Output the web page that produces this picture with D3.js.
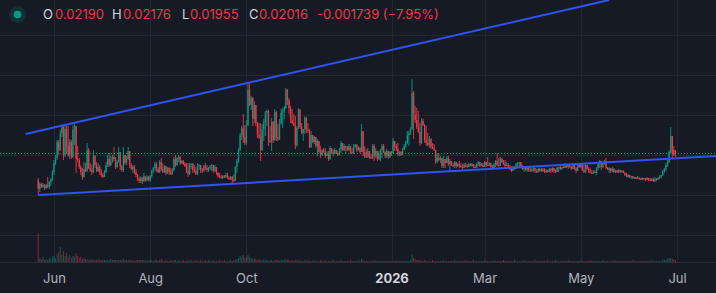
<!DOCTYPE html>
<meta charset="utf-8">
<style>
    body {
        margin: 0;
        background: #161a25;
    }
    svg {
        display: block;
        font-family: Inter, Roboto, sans-serif;
    }
    .grid line {
        stroke: #232633;
        shape-rendering: crispEdges;
    }
    .grid path {
        display: none;
    }
</style>
<body>
<script src="https://d3js.org/d3.v7.min.js"></script>
<script>
    // daily candles, first one on this day
    var firstDay = "2025-05-22";

    var opens = [
        0.0175,0.0166,0.0171,0.0168,0.0170,0.0167,0.0170,0.0168,0.0173,0.0176,0.0183,0.0192,0.0197,0.0213,0.0205,0.0222,0.0228,0.0200,0.0226,0.0210,
        0.0200,0.0213,0.0198,0.0225,0.0229,0.0196,0.0195,0.0188,0.0183,0.0178,0.0186,0.0184,0.0205,0.0187,0.0185,0.0183,0.0199,0.0190,0.0184,0.0188,
        0.0183,0.0180,0.0178,0.0183,0.0190,0.0196,0.0190,0.0193,0.0198,0.0196,0.0188,0.0193,0.0203,0.0188,0.0185,0.0200,0.0192,0.0196,0.0204,0.0190,
        0.0186,0.0188,0.0183,0.0180,0.0176,0.0174,0.0177,
        0.0174,0.0179,0.0175,0.0178,0.0175,0.0179,0.0184,0.0187,0.0191,0.0186,0.0183,0.0193,0.0186,0.0183,0.0189,0.0182,0.0187,0.0183,0.0181,0.0185,
        0.0196,0.0190,0.0197,0.0198,0.0192,0.0194,0.0191,0.0189,0.0184,0.0181,0.0190,0.0191,0.0185,0.0184,0.0181,0.0189,0.0190,0.0185,0.0184,0.0189,
        0.0187,0.0185,0.0187,0.0189,0.0190,0.0184,0.0188,0.0182,0.0179,0.0178,0.0177,0.0179,0.0178,0.0180,0.0177,0.0176,0.0178,0.0175,
        0.0174,0.0188,0.0194,0.0205,0.0220,0.0227,0.0218,0.0212,0.0230,0.0265,0.0250,0.0257,0.0236,0.0250,0.0232,0.0220,0.0218,0.0205,0.0226,0.0233,
        0.0242,0.0244,0.0214,0.0213,0.0233,0.0215,0.0243,0.0218,0.0216,0.0232,0.0242,0.0244,0.0247,0.0265,0.0255,0.0247,0.0235,0.0232,0.0229,0.0210,
        0.0227,0.0245,0.0228,0.0222,0.0226,0.0237,0.0225,0.0224,0.0208,0.0220,0.0213,0.0218,0.0209,0.0214,0.0203,0.0200,0.0205,0.0203,0.0199,0.0201,
        0.0196,0.0207,0.0203,0.0201,0.0205,0.0202,0.0200,0.0206,0.0212,0.0205,0.0209,0.0208,0.0205,0.0209,0.0203,0.0202,0.0208,0.0210,0.0205,0.0207,
        0.0203,
        0.0224,0.0203,0.0199,0.0198,0.0204,0.0198,0.0197,0.0209,0.0199,0.0204,0.0196,0.0202,0.0205,0.0209,0.0203,0.0199,0.0204,0.0198,0.0203,0.0202,
        0.0214,0.0209,0.0206,0.0201,0.0203,0.0200,0.0205,0.0209,0.0212,0.0220,0.0222,0.0226,0.0262,0.0240,0.0235,0.0228,0.0223,0.0212,0.0234,0.0230,
        0.0215,0.0212,0.0210,0.0216,0.0208,0.0207,0.0205,0.0193,0.0197,0.0195,0.0197,0.0189,0.0196,0.0192,0.0197,0.0191,0.0194,0.0190,0.0189,0.0193,
        0.0189,0.0191,0.0189,0.0188,0.0187,
        0.0190,0.0189,0.0188,0.0191,0.0189,0.0191,0.0188,0.0187,0.0191,0.0193,0.0189,0.0190,0.0188,0.0193,0.0190,0.0189,0.0192,0.0188,0.0186,0.0191,
        0.0194,0.0190,0.0189,0.0196,0.0193,0.0191,0.0189,0.0190,0.0188,0.0186,0.0184,0.0188,0.0186,0.0191,0.0192,0.0193,0.0189,0.0186,0.0188,0.0185,
        0.0187,0.0185,0.0184,0.0186,0.0187,0.0184,0.0183,0.0186,0.0184,0.0186,0.0184,0.0183,0.0185,0.0183,0.0186,0.0184,0.0187,0.0184,0.0183,0.0187,
        0.0188,0.0186,0.0188,0.0187,0.0189,0.0188,0.0190,0.0188,0.0186,0.0190,0.0187,0.0184,0.0190,
        0.0188,0.0191,0.0185,0.0183,0.0190,0.0186,0.0183,0.0182,0.0181,0.0183,0.0182,0.0187,0.0191,0.0194,0.0188,0.0192,0.0194,0.0187,0.0185,0.0187,
        0.0184,0.0186,0.0183,0.0185,0.0183,0.0185,0.0183,0.0184,0.0182,0.0180,0.0178,0.0180,0.0178,0.0179,0.0177,0.0178,0.0176,0.0177,0.0176,0.0175,
        0.0177,0.0176,0.0175,0.0177,0.0175,0.0174,0.0176,0.0174,0.0176,0.0175,0.0177,0.0178,0.0180,0.0184,0.0186,0.0190,0.0193,0.0203,0.0219,0.0205,
        0.0205
    ];

    var highs = [
        0.0177,0.0173,0.0172,0.0172,0.0171,0.0171,0.0178,0.0174,0.0177,0.0185,0.0195,0.0200,0.0215,0.0215,0.0225,0.0230,0.0230,0.0230,0.0231,0.0229,
        0.0216,0.0215,0.0230,0.0231,0.0229,0.0209,0.0197,0.0190,0.0187,0.0193,0.0192,0.0212,0.0207,0.0192,0.0190,0.0205,0.0200,0.0193,0.0192,0.0190,
        0.0186,0.0182,0.0185,0.0193,0.0200,0.0202,0.0199,0.0200,0.0208,0.0198,0.0195,0.0208,0.0203,0.0190,0.0208,0.0200,0.0199,0.0208,0.0204,0.0192,
        0.0190,0.0190,0.0186,0.0181,0.0178,0.0179,0.0178,
        0.0182,0.0179,0.0180,0.0179,0.0180,0.0185,0.0188,0.0193,0.0193,0.0188,0.0195,0.0197,0.0192,0.0190,0.0189,0.0188,0.0188,0.0187,0.0187,0.0198,
        0.0200,0.0198,0.0200,0.0199,0.0195,0.0195,0.0193,0.0192,0.0192,0.0192,0.0192,0.0192,0.0190,0.0188,0.0192,0.0191,0.0190,0.0187,0.0190,0.0192,
        0.0190,0.0188,0.0190,0.0191,0.0190,0.0190,0.0188,0.0183,0.0182,0.0180,0.0180,0.0180,0.0182,0.0182,0.0179,0.0179,0.0179,0.0181,
        0.0189,0.0196,0.0207,0.0222,0.0229,0.0241,0.0230,0.0235,0.0271,0.0272,0.0259,0.0258,0.0254,0.0250,0.0233,0.0232,0.0232,0.0231,0.0236,0.0244,
        0.0246,0.0245,0.0229,0.0237,0.0234,0.0246,0.0244,0.0231,0.0236,0.0246,0.0247,0.0249,0.0267,0.0266,0.0257,0.0249,0.0246,0.0241,0.0239,0.0229,
        0.0247,0.0246,0.0232,0.0226,0.0239,0.0238,0.0232,0.0226,0.0224,0.0220,0.0219,0.0218,0.0216,0.0214,0.0209,0.0206,0.0207,0.0207,0.0204,0.0204,
        0.0209,0.0207,0.0206,0.0207,0.0205,0.0204,0.0207,0.0214,0.0212,0.0211,0.0209,0.0209,0.0211,0.0209,0.0207,0.0211,0.0211,0.0211,0.0209,0.0208,
        0.0231,
        0.0224,0.0209,0.0206,0.0207,0.0204,0.0201,0.0211,0.0211,0.0207,0.0204,0.0204,0.0206,0.0211,0.0211,0.0204,0.0206,0.0204,0.0204,0.0204,0.0217,
        0.0214,0.0211,0.0212,0.0204,0.0204,0.0207,0.0211,0.0214,0.0224,0.0224,0.0228,0.0276,0.0264,0.0249,0.0247,0.0244,0.0232,0.0237,0.0236,0.0231,
        0.0229,0.0222,0.0219,0.0217,0.0212,0.0211,0.0205,0.0202,0.0201,0.0199,0.0197,0.0199,0.0196,0.0199,0.0199,0.0196,0.0194,0.0192,0.0194,0.0193,
        0.0192,0.0194,0.0192,0.0191,0.0192,
        0.0192,0.0191,0.0192,0.0192,0.0192,0.0191,0.0190,0.0192,0.0194,0.0193,0.0192,0.0192,0.0194,0.0193,0.0198,0.0193,0.0192,0.0190,0.0192,0.0195,
        0.0202,0.0197,0.0198,0.0197,0.0195,0.0195,0.0193,0.0192,0.0190,0.0189,0.0189,0.0189,0.0192,0.0193,0.0193,0.0193,0.0190,0.0188,0.0188,0.0188,
        0.0188,0.0188,0.0187,0.0188,0.0187,0.0186,0.0187,0.0187,0.0187,0.0187,0.0187,0.0186,0.0185,0.0187,0.0187,0.0188,0.0187,0.0186,0.0188,0.0188,
        0.0190,0.0188,0.0190,0.0192,0.0191,0.0191,0.0190,0.0189,0.0192,0.0191,0.0188,0.0192,0.0192,
        0.0192,0.0192,0.0190,0.0192,0.0190,0.0188,0.0187,0.0185,0.0185,0.0185,0.0188,0.0193,0.0195,0.0194,0.0193,0.0195,0.0197,0.0188,0.0188,0.0187,
        0.0188,0.0187,0.0185,0.0185,0.0186,0.0185,0.0185,0.0185,0.0183,0.0182,0.0181,0.0180,0.0179,0.0179,0.0178,0.0178,0.0179,0.0178,0.0177,0.0178,
        0.0177,0.0177,0.0178,0.0177,0.0177,0.0177,0.0177,0.0178,0.0177,0.0178,0.0180,0.0180,0.0185,0.0187,0.0192,0.0195,0.0205,0.0228,0.0219,0.0209,
        0.0205
    ];

    var lows = [
        0.0160,0.0163,0.0167,0.0167,0.0165,0.0166,0.0167,0.0166,0.0169,0.0174,0.0180,0.0190,0.0195,0.0200,0.0204,0.0218,0.0195,0.0198,0.0202,0.0198,
        0.0196,0.0196,0.0197,0.0210,0.0182,0.0193,0.0186,0.0180,0.0175,0.0177,0.0183,0.0183,0.0186,0.0183,0.0180,0.0182,0.0187,0.0183,0.0183,0.0180,
        0.0178,0.0177,0.0178,0.0182,0.0188,0.0188,0.0189,0.0192,0.0194,0.0186,0.0187,0.0192,0.0185,0.0183,0.0183,0.0190,0.0190,0.0195,0.0187,0.0185,
        0.0182,0.0181,0.0178,0.0174,0.0172,0.0172,0.0171,
        0.0173,0.0173,0.0174,0.0174,0.0173,0.0177,0.0182,0.0184,0.0183,0.0182,0.0182,0.0184,0.0182,0.0182,0.0180,0.0181,0.0180,0.0180,0.0180,0.0184,
        0.0188,0.0189,0.0193,0.0190,0.0191,0.0190,0.0188,0.0182,0.0178,0.0180,0.0186,0.0182,0.0182,0.0180,0.0180,0.0185,0.0182,0.0182,0.0183,0.0185,
        0.0183,0.0183,0.0185,0.0184,0.0182,0.0183,0.0180,0.0177,0.0177,0.0176,0.0176,0.0177,0.0177,0.0176,0.0175,0.0175,0.0172,0.0173,
        0.0174,0.0182,0.0192,0.0204,0.0215,0.0212,0.0210,0.0210,0.0229,0.0249,0.0245,0.0229,0.0232,0.0229,0.0217,0.0216,0.0194,0.0204,0.0214,0.0219,
        0.0229,0.0209,0.0212,0.0204,0.0212,0.0214,0.0214,0.0214,0.0215,0.0230,0.0227,0.0236,0.0246,0.0250,0.0241,0.0232,0.0231,0.0229,0.0206,0.0208,
        0.0226,0.0226,0.0221,0.0214,0.0221,0.0222,0.0222,0.0207,0.0207,0.0212,0.0211,0.0207,0.0199,0.0202,0.0197,0.0199,0.0202,0.0197,0.0199,0.0194,
        0.0195,0.0201,0.0199,0.0201,0.0201,0.0199,0.0200,0.0202,0.0204,0.0204,0.0202,0.0204,0.0204,0.0201,0.0201,0.0201,0.0207,0.0203,0.0204,0.0202,
        0.0203,
        0.0199,0.0197,0.0197,0.0197,0.0196,0.0196,0.0196,0.0194,0.0197,0.0194,0.0195,0.0194,0.0197,0.0202,0.0197,0.0197,0.0196,0.0197,0.0199,0.0202,
        0.0204,0.0204,0.0199,0.0199,0.0199,0.0200,0.0205,0.0207,0.0211,0.0209,0.0220,0.0225,0.0216,0.0232,0.0226,0.0222,0.0209,0.0211,0.0229,0.0212,
        0.0209,0.0209,0.0207,0.0206,0.0206,0.0204,0.0191,0.0192,0.0194,0.0192,0.0187,0.0187,0.0187,0.0192,0.0189,0.0184,0.0189,0.0188,0.0187,0.0187,
        0.0188,0.0187,0.0187,0.0186,0.0187,
        0.0188,0.0187,0.0188,0.0189,0.0188,0.0187,0.0187,0.0187,0.0189,0.0188,0.0189,0.0188,0.0188,0.0188,0.0189,0.0189,0.0187,0.0185,0.0186,0.0188,
        0.0189,0.0188,0.0189,0.0192,0.0190,0.0188,0.0189,0.0187,0.0185,0.0183,0.0184,0.0185,0.0186,0.0187,0.0188,0.0187,0.0185,0.0183,0.0184,0.0183,
        0.0183,0.0183,0.0183,0.0183,0.0182,0.0182,0.0182,0.0183,0.0183,0.0183,0.0182,0.0182,0.0182,0.0183,0.0182,0.0183,0.0182,0.0182,0.0183,0.0183,
        0.0185,0.0185,0.0187,0.0187,0.0187,0.0186,0.0187,0.0185,0.0186,0.0185,0.0182,0.0184,0.0187,
        0.0187,0.0184,0.0182,0.0182,0.0185,0.0182,0.0182,0.0181,0.0181,0.0182,0.0180,0.0185,0.0187,0.0185,0.0187,0.0190,0.0186,0.0185,0.0182,0.0182,
        0.0183,0.0182,0.0182,0.0182,0.0182,0.0182,0.0182,0.0182,0.0179,0.0178,0.0177,0.0177,0.0176,0.0176,0.0176,0.0176,0.0176,0.0175,0.0175,0.0175,
        0.0175,0.0174,0.0175,0.0174,0.0174,0.0174,0.0173,0.0173,0.0174,0.0175,0.0176,0.0177,0.0179,0.0182,0.0184,0.0188,0.0192,0.0201,0.0196,0.0199,
        0.0198
    ];

    var closes = [
        0.0166,0.0171,0.0168,0.0170,0.0167,0.0170,0.0168,0.0173,0.0176,0.0183,0.0192,0.0197,0.0213,0.0205,0.0222,0.0228,0.0200,0.0226,0.0210,0.0200,
        0.0213,0.0198,0.0225,0.0229,0.0196,0.0195,0.0188,0.0183,0.0178,0.0186,0.0184,0.0205,0.0187,0.0185,0.0183,0.0199,0.0190,0.0184,0.0188,0.0183,
        0.0180,0.0178,0.0183,0.0190,0.0196,0.0190,0.0193,0.0198,0.0196,0.0188,0.0193,0.0203,0.0188,0.0185,0.0200,0.0192,0.0196,0.0204,0.0190,0.0186,
        0.0188,0.0183,0.0180,0.0176,0.0174,0.0177,0.0174,
        0.0179,0.0175,0.0178,0.0175,0.0179,0.0184,0.0187,0.0191,0.0186,0.0183,0.0193,0.0186,0.0183,0.0189,0.0182,0.0187,0.0183,0.0181,0.0185,0.0196,
        0.0190,0.0197,0.0198,0.0192,0.0194,0.0191,0.0189,0.0184,0.0181,0.0190,0.0191,0.0185,0.0184,0.0181,0.0189,0.0190,0.0185,0.0184,0.0189,0.0187,
        0.0185,0.0187,0.0189,0.0190,0.0184,0.0188,0.0182,0.0179,0.0178,0.0177,0.0179,0.0178,0.0180,0.0177,0.0176,0.0178,0.0175,0.0174,
        0.0188,0.0194,0.0205,0.0220,0.0227,0.0218,0.0212,0.0230,0.0265,0.0250,0.0257,0.0236,0.0250,0.0232,0.0220,0.0218,0.0205,0.0226,0.0233,0.0242,
        0.0244,0.0214,0.0213,0.0233,0.0215,0.0243,0.0218,0.0216,0.0232,0.0242,0.0244,0.0247,0.0265,0.0255,0.0247,0.0235,0.0232,0.0229,0.0210,0.0227,
        0.0245,0.0228,0.0222,0.0226,0.0237,0.0225,0.0224,0.0208,0.0220,0.0213,0.0218,0.0209,0.0214,0.0203,0.0200,0.0205,0.0203,0.0199,0.0201,0.0196,
        0.0207,0.0203,0.0201,0.0205,0.0202,0.0200,0.0206,0.0212,0.0205,0.0209,0.0208,0.0205,0.0209,0.0203,0.0202,0.0208,0.0210,0.0205,0.0207,0.0203,
        0.0224,
        0.0203,0.0199,0.0198,0.0204,0.0198,0.0197,0.0209,0.0199,0.0204,0.0196,0.0202,0.0205,0.0209,0.0203,0.0199,0.0204,0.0198,0.0203,0.0202,0.0214,
        0.0209,0.0206,0.0201,0.0203,0.0200,0.0205,0.0209,0.0212,0.0220,0.0222,0.0226,0.0262,0.0240,0.0235,0.0228,0.0223,0.0212,0.0234,0.0230,0.0215,
        0.0212,0.0210,0.0216,0.0208,0.0207,0.0205,0.0193,0.0197,0.0195,0.0197,0.0189,0.0196,0.0192,0.0197,0.0191,0.0194,0.0190,0.0189,0.0193,0.0189,
        0.0191,0.0189,0.0188,0.0187,0.0190,
        0.0189,0.0188,0.0191,0.0189,0.0191,0.0188,0.0187,0.0191,0.0193,0.0189,0.0190,0.0188,0.0193,0.0190,0.0189,0.0192,0.0188,0.0186,0.0191,0.0194,
        0.0190,0.0189,0.0196,0.0193,0.0191,0.0189,0.0190,0.0188,0.0186,0.0184,0.0188,0.0186,0.0191,0.0192,0.0193,0.0189,0.0186,0.0188,0.0185,0.0187,
        0.0185,0.0184,0.0186,0.0187,0.0184,0.0183,0.0186,0.0184,0.0186,0.0184,0.0183,0.0185,0.0183,0.0186,0.0184,0.0187,0.0184,0.0183,0.0187,0.0188,
        0.0186,0.0188,0.0187,0.0189,0.0188,0.0190,0.0188,0.0186,0.0190,0.0187,0.0184,0.0190,0.0188,
        0.0191,0.0185,0.0183,0.0190,0.0186,0.0183,0.0182,0.0181,0.0183,0.0182,0.0187,0.0191,0.0194,0.0188,0.0192,0.0194,0.0187,0.0185,0.0187,0.0184,
        0.0186,0.0183,0.0185,0.0183,0.0185,0.0183,0.0184,0.0182,0.0180,0.0178,0.0180,0.0178,0.0179,0.0177,0.0178,0.0176,0.0177,0.0176,0.0175,0.0177,
        0.0176,0.0175,0.0177,0.0175,0.0174,0.0176,0.0174,0.0176,0.0175,0.0177,0.0178,0.0180,0.0184,0.0186,0.0190,0.0193,0.0203,0.0219,0.0202,0.0200,
        0.02016
    ];

    var volumes = [
        29,4,3,5,2,3,2,4,3,
        5,6,4,8,10,15,7,11,6,9,5,7,4,6,5,9,6,4,5,3,4,3,
        3,2,2,3,2,2,2,3,2,2,2,2,2,2,2,3,2,2,2,2,2,2,2,3,2,2,2,2,2,2,1,2,2,2,2,2,
        2,1,2,1,2,2,1,2,2,1,2,3,2,1,2,1,1,2,1,2,2,1,2,1,1,2,1,1,2,1,2,1,1,2,1,1,2,1,1,2,1,2,1,1,2,1,1,1,2,1,1,2,1,1,1,2,1,2,
        2,3,4,6,5,7,4,5,7,5,4,3,4,3,2,3,
        2,2,3,2,2,1,2,2,1,2,2,2,1,2,2,2,3,2,2,1,2,1,2,2,1,2,1,1,2,1,2,1,1,1,2,1,1,1,2,1,1,2,1,1,1,1,2,1,1,1,1,2,1,1,1,1,1,2,1,1,1,1,2,1,3,
        2,1,1,1,1,1,1,2,1,1,1,1,1,1,1,1,1,1,1,1,1,1,1,1,1,1,1,1,1,1,2,
        8,4,3,2,2,2,
        1,1,2,1,1,1,1,2,1,1,1,1,1,1,2,1,1,1,1,1,1,2,1,1,1,1,1,1,2,1,1,1,1,2,1,1,1,1,1,1,
        2,1,1,1,1,1,2,1,1,1,1,1,2,1,1,1,1,1,1,2,1,1,1,1,1,2,1,1,1,1,1,1,2,1,1,1,1,1,1,1,
        2,1,1,1,1,2,1,1,1,1,1,1,1,2,1,1,1,1,1,1,1,2,1,1,1,1,1,2,1,1,1,1,1,1,1,2,1,1,1,1,
        1,1,2,1,1,1,1,1,1,1,1,1,1,1,2,1,1,1,1,1,1,1,1,1,1,1,2,1,1,1,1,1,1,2,2,
        2,3,4,4,3,2,2
    ];

    var tickDates = ["2025-06-01", "2025-08-01", "2025-10-01", "2026-01-01", "2026-03-01", "2026-05-01", "2026-07-01"];
    var tickLabels = ["Jun", "Aug", "Oct", "2026", "Mar", "May", "Jul"];
    var gridPrices = [0.012, 0.016, 0.020, 0.024, 0.028, 0.032];

    // drawn trend lines, two anchors each
    var upperTrend = [["2025-05-14", 0.0221], ["2026-05-19", 0.0355]];
    var lowerTrend = [["2025-05-22", 0.0160], ["2026-07-26", 0.0199]];

    var legendKeys = ["O", "H", "L", "C"];
    var legendValues = ["0.02190", "0.02176", "0.01955", "0.02016"];
    var legendChange = "-0.001739 (\u22127.95%)";

    var width = 716, height = 293, paneBottom = 262;
    var up = "#089981", down = "#f23645";

    var parseDay = d3.utcParse("%Y-%m-%d");
    var start = parseDay(firstDay);

    var data = closes.map(function(c, i) {
        return {
            date: d3.utcDay.offset(start, i),
            open: opens[i], high: highs[i], low: lows[i], close: c,
            volume: volumes[i]
        };
    });

    var x = d3.scaleUtc()
        .domain([parseDay("2025-06-01"), parseDay("2026-07-01")])
        .range([54, 677]);

    var y = d3.scaleLinear()
        .domain([0.012, 0.032])
        .range([235, 35]);

    var yVol = d3.scaleLinear()
        .domain([0, d3.max(volumes)])
        .range([paneBottom, paneBottom - 29]);

    var svg = d3.select("body").append("svg")
        .attr("width", width)
        .attr("height", height);

    svg.append("rect")
        .attr("width", width)
        .attr("height", height)
        .attr("fill", "#161a25");

    svg.append("clipPath")
        .attr("id", "pane")
        .append("rect")
        .attr("width", width)
        .attr("height", paneBottom);

    // grid
    svg.append("g")
        .attr("class", "grid")
        .attr("transform", "translate(0," + paneBottom + ")")
        .call(d3.axisBottom(x)
            .tickValues(tickDates.map(parseDay))
            .tickSize(-paneBottom)
            .tickFormat(""));

    svg.append("g")
        .attr("class", "grid")
        .call(d3.axisLeft(y)
            .tickValues(gridPrices)
            .tickSize(-width)
            .tickFormat(""));

    var plot = svg.append("g")
        .attr("clip-path", "url(#pane)");

    // volume
    plot.selectAll(".vol")
        .data(data)
        .enter().append("rect")
        .attr("class", "vol")
        .attr("x", function(d) { return x(d.date) - 0.5; })
        .attr("width", 1)
        .attr("y", function(d) { return yVol(d.volume); })
        .attr("height", function(d) { return paneBottom - yVol(d.volume); })
        .attr("fill", function(d) { return d.close >= d.open ? up : down; })
        .attr("fill-opacity", 0.5);

    // candles
    var candle = plot.selectAll(".candle")
        .data(data)
        .enter().append("g")
        .attr("class", "candle")
        .attr("transform", function(d) { return "translate(" + x(d.date) + ",0)"; });

    candle.append("line")
        .attr("y1", function(d) { return y(d.high); })
        .attr("y2", function(d) { return y(d.low); })
        .attr("stroke", function(d) { return d.close >= d.open ? up : down; })
        .attr("stroke-width", 0.9);

    candle.append("rect")
        .attr("x", -0.65)
        .attr("width", 1.3)
        .attr("y", function(d) { return y(Math.max(d.open, d.close)); })
        .attr("height", function(d) { return Math.max(1, Math.abs(y(d.open) - y(d.close))); })
        .attr("fill", function(d) { return d.close >= d.open ? up : down; });

    // last price line
    var lastY = Math.round(y(closes[closes.length - 1])) + 0.5;
    plot.append("line")
        .attr("x1", 0)
        .attr("x2", width)
        .attr("y1", lastY)
        .attr("y2", lastY)
        .attr("stroke", down)
        .attr("stroke-dasharray", "1,2");

    // trend lines
    var trend = d3.line()
        .x(function(d) { return x(parseDay(d[0])); })
        .y(function(d) { return y(d[1]); });

    plot.selectAll(".trend")
        .data([upperTrend, lowerTrend])
        .enter().append("path")
        .attr("class", "trend")
        .attr("d", trend)
        .attr("fill", "none")
        .attr("stroke", "#2f54f3")
        .attr("stroke-width", 2);

    // time axis
    svg.append("line")
        .attr("x1", 0)
        .attr("x2", width)
        .attr("y1", paneBottom + 0.5)
        .attr("y2", paneBottom + 0.5)
        .attr("stroke", "#2a2e39");

    var axis = svg.append("g")
        .attr("transform", "translate(0," + paneBottom + ")")
        .call(d3.axisBottom(x)
            .tickValues(tickDates.map(parseDay))
            .tickSize(0)
            .tickPadding(12)
            .tickFormat(function(d, i) { return tickLabels[i]; }));

    axis.select(".domain").remove();
    axis.selectAll("text")
        .attr("font-family", "Inter, Roboto, sans-serif")
        .attr("font-size", 13)
        .attr("fill", function(d, i) { return tickLabels[i] === "2026" ? "#d1d4dc" : "#b2b5be"; })
        .attr("font-weight", function(d, i) { return tickLabels[i] === "2026" ? 700 : 400; });

    // legend
    svg.append("circle")
        .attr("cx", 17.5)
        .attr("cy", 14.5)
        .attr("r", 8.5)
        .attr("fill", up)
        .attr("fill-opacity", 0.18);

    svg.append("circle")
        .attr("cx", 17.5)
        .attr("cy", 14.5)
        .attr("r", 3.8)
        .attr("fill", up);

    var keyX = [43, 112, 182, 249];
    var valX = [55, 123, 190, 259];
    var legend = svg.append("g")
        .attr("font-size", 13);

    legend.selectAll(".key")
        .data(legendKeys)
        .enter().append("text")
        .attr("class", "key")
        .attr("x", function(d, i) { return keyX[i]; })
        .attr("y", 19)
        .attr("fill", "#d1d4dc")
        .text(function(d) { return d; });

    legend.selectAll(".val")
        .data(legendValues)
        .enter().append("text")
        .attr("class", "val")
        .attr("x", function(d, i) { return valX[i]; })
        .attr("y", 19)
        .attr("fill", down)
        .text(function(d) { return d; });

    legend.append("text")
        .attr("x", 317)
        .attr("y", 19)
        .attr("fill", down)
        .text(legendChange);
</script>
